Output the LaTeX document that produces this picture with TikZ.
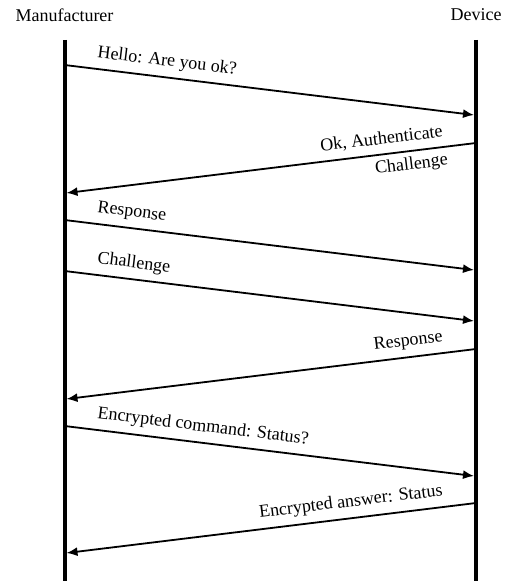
\documentclass[tikz,border=0pt]{standalone}
\usepackage{fontspec}
\setmainfont{Liberation Serif}
\usetikzlibrary{arrows.meta}
\begin{document}
\begin{tikzpicture}[x=0.5pt,y=-0.5pt,
  lbl/.style={font=\fontsize{9}{11}\selectfont},
  lifeline/.style={line width=2pt},
  msg/.style={line width=0.9pt,-{Latex[length=5.5pt,width=4.5pt]}},
  lmsg/.style={lbl,sloped,anchor=south west,pos=0.058},
  rmsg/.style={lbl,sloped,anchor=south east,pos=0.059}]
\useasboundingbox (0,0) rectangle (509,581);
\node[lbl] (man) at (64.5,15) {Manufacturer};
\node[lbl] (dev) at (476,15) {Device};
\coordinate (mtop) at (64.5,40);
\coordinate (mbot) at (64.5,581);
\coordinate (dtop) at (476,40);
\coordinate (dbot) at (476,581);
\draw[lifeline] (mtop) -- (mbot);
\draw[lifeline] (dtop) -- (dbot);
% message end points
\coordinate (a1) at (64.5,65);  \coordinate (b1) at (474,115);
\coordinate (a2) at (476,143);  \coordinate (b2) at (66.5,193);
\coordinate (a3) at (64.5,220); \coordinate (b3) at (474,270);
\coordinate (a4) at (64.5,271); \coordinate (b4) at (474,321);
\coordinate (a5) at (476,349);  \coordinate (b5) at (66.5,399);
\coordinate (a6) at (64.5,426); \coordinate (b6) at (474,476);
\coordinate (a7) at (476,503);  \coordinate (b7) at (66.5,553);
\draw[msg] (a1) -- node[lmsg] (t1) {Hello: Are you ok?} (b1);
\draw[msg] (a2) -- node[rmsg] (t2) {Ok, Authenticate}
                   node[lbl,sloped,anchor=north east,pos=0.059,inner sep=2.5pt] (t2b) {Challenge} (b2);
\draw[msg] (a3) -- node[lmsg] (t3) {Response} (b3);
\draw[msg] (a4) -- node[lmsg] (t4) {Challenge} (b4);
\draw[msg] (a5) -- node[rmsg] (t5) {Response} (b5);
\draw[msg] (a6) -- node[lmsg] (t6) {Encrypted command: Status?} (b6);
\draw[msg] (a7) -- node[rmsg] (t7) {Encrypted answer: Status} (b7);
\end{tikzpicture}
\end{document}
